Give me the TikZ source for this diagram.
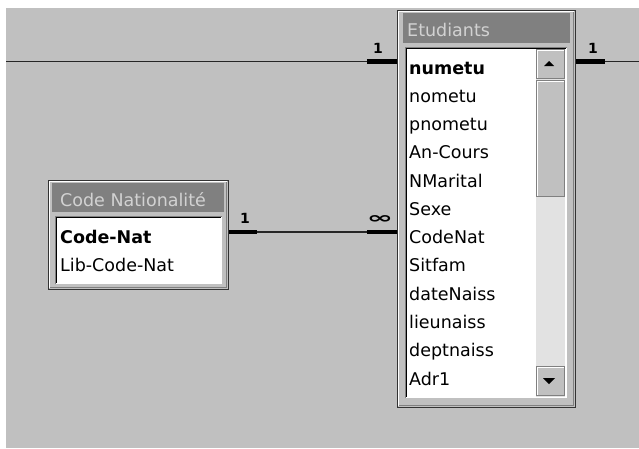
\documentclass[tikz,border=0pt]{standalone}
\usepackage{fontspec}
\setmainfont{DejaVu Sans}
\definecolor{winbg}{HTML}{C0C0C0}
\definecolor{titlebar}{HTML}{808080}
\definecolor{titletext}{HTML}{D2D2D2}
\definecolor{winshadow}{HTML}{808080}
\definecolor{scrolltrack}{HTML}{E2E2E2}
\tikzset{
  rowtext/.style={anchor=base west, inner sep=0, font=\fontsize{17.5}{20}\selectfont},
  titletxt/.style={rowtext, text=titletext},
  link/.style={line width=1.4, black!85},
  stub/.style={line width=4.5, black},
  card/.style={font=\bfseries\fontsize{14}{14}\selectfont, inner sep=0},
  winbox/.style={fill=winbg, draw=black!80, line width=1, inner sep=0, anchor=north west},
  btn/.style={fill=winbg, draw=winshadow, line width=1},
}
\begin{document}
\begin{tikzpicture}[x=1pt,y=-1pt]
\useasboundingbox (0,0) rectangle (639,448);
\fill[white] (0,0) rectangle (639,448);
\fill[winbg] (6,8) rectangle (639,448);

\node[winbox, minimum width=178, minimum height=397] (etud) at (397,10) {};
\draw[white, line width=1] (398.5,405.5) -- (398.5,11.5) -- (573.5,11.5);
\draw[winshadow, line width=1] (398.5,405.5) -- (573.5,405.5) -- (573.5,11.5);
\fill[titlebar] (403,13) rectangle (570,43);
\node[titletxt] (etud-title) at (407,36.5) {Etudiants};
\fill[white] (405,47) rectangle (567,398);
\draw[winshadow, line width=1] (405.5,398) -- (405.5,47.5) -- (567,47.5);
\draw[black, line width=1] (406.5,397) -- (406.5,48.5) -- (566,48.5);
\fill[scrolltrack] (536,49) rectangle (565,397);
\draw[btn] (536.5,49.5) rectangle (564.5,78.5);
\draw[white, line width=1] (537.5,77.5) -- (537.5,50.5) -- (563.5,50.5);
\fill (544,66) -- (554,66) -- (549,61) -- cycle;
\draw[btn] (536.5,80.5) rectangle (564.5,196.5);
\draw[white, line width=1] (537.5,195.5) -- (537.5,81.5) -- (563.5,81.5);
\draw[btn] (536.5,366.5) rectangle (564.5,395.5);
\draw[white, line width=1] (537.5,394.5) -- (537.5,367.5) -- (563.5,367.5);
\fill (543,378) -- (555,378) -- (549,384) -- cycle;
\node[rowtext, font=\bfseries\fontsize{17.5}{20}\selectfont] (etud-key) at (409,74) {numetu};
\foreach \field [count=\i from 0] in {nometu,pnometu,An-Cours,NMarital,Sexe,CodeNat,Sitfam,dateNaiss,lieunaiss,deptnaiss,Adr1}
  \node[rowtext] (etud-f\i) at (409,{102.3+28.27*\i}) {\field};

\node[winbox, minimum width=180, minimum height=109] (natio) at (48,180) {};
\draw[white, line width=1] (49.5,287.5) -- (49.5,181.5) -- (226.5,181.5);
\draw[winshadow, line width=1] (49.5,287.5) -- (226.5,287.5) -- (226.5,181.5);
\fill[titlebar] (52,183) rectangle (224,212);
\node[titletxt] (natio-title) at (60,206.5) {Code Nationalité};
\fill[white] (55,216) rectangle (222,284);
\draw[winshadow, line width=1] (55.5,284) -- (55.5,216.5) -- (222,216.5);
\draw[black, line width=1] (56.5,283) -- (56.5,217.5) -- (221,217.5);
\node[rowtext, font=\bfseries\fontsize{17.5}{20}\selectfont] (natio-key) at (60,243) {Code-Nat};
\node[rowtext] (natio-f1) at (60,271.5) {Lib-Code-Nat};

\coordinate (top-in) at (6,61.5);
\coordinate (top-out) at (639,61.5);
\coordinate (nat-out) at ([yshift=3pt]natio.east);
\draw[link] (top-in) -- (etud.west |- top-in);
\draw[stub] (etud.west |- top-in) -- ++(-30,0);
\draw[link] (etud.east |- top-out) -- (top-out);
\draw[stub] (etud.east |- top-out) -- ++(29,0);
\draw[link] (nat-out) -- (etud.west |- nat-out);
\draw[stub] (nat-out) -- ++(28,0);
\draw[stub] (etud.west |- nat-out) -- ++(-30,0);

\node[card] (card-top) at (378,48) {1};
\node[card] (card-right) at (593,48) {1};
\node[card] (card-nat) at (245,218) {1};
\node[card, font=\bfseries\fontsize{15}{15}\selectfont] (card-many) at (380,219.5) {\scalebox{2.1}[1.05]{∞}};
\end{tikzpicture}
\end{document}
